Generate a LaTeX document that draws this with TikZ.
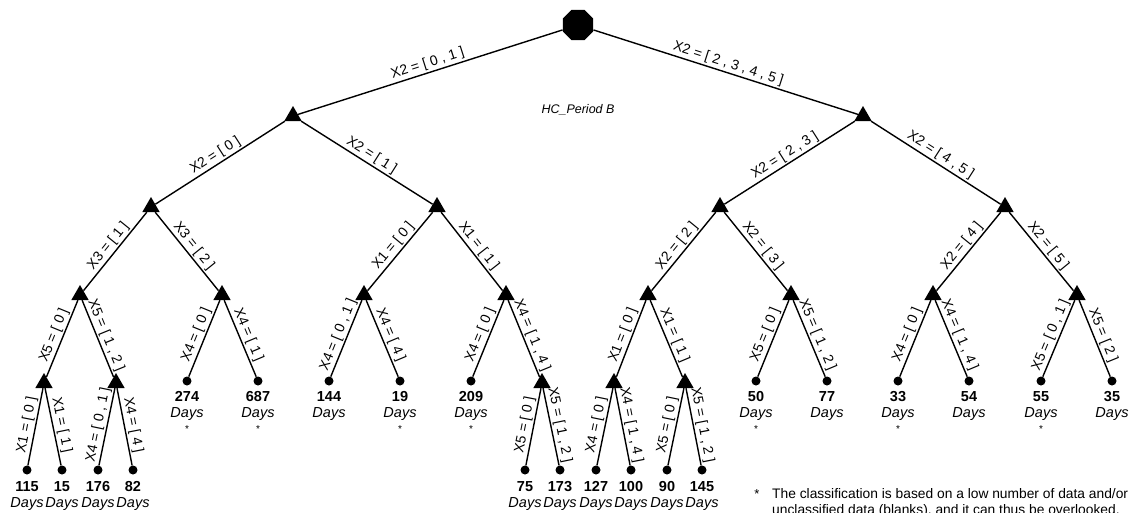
\documentclass[tikz,border=0pt]{standalone}
\usepackage{fontspec}
\setmainfont{Liberation Sans}
\usetikzlibrary{shapes.geometric}
\begin{document}
\begin{tikzpicture}[x=1pt,y=-1pt,
  edge/.style={line width=1.4pt},
  tri/.style={regular polygon, regular polygon sides=3, fill=black, inner sep=0pt, minimum size=20pt},
  oct/.style={regular polygon, regular polygon sides=8, fill=black, inner sep=0pt, minimum size=33pt},
  leaf/.style={circle, fill=black, inner sep=0pt, minimum size=9pt},
  lab/.style={midway, sloped, above, inner sep=1.5pt, font=\fontsize{14}{15}\selectfont},
  lt/.style={align=center, inner sep=0pt, anchor=north, font=\fontsize{14.5}{16.5}\selectfont},
  ast/.style={inner sep=0pt, font=\fontsize{10}{10}\selectfont},
  note/.style={align=left, inner sep=0pt, anchor=north west, font=\fontsize{13.8}{16.5}\selectfont},
  ttl/.style={inner sep=0pt, font=\fontsize{12.5}{13}\selectfont\itshape}]
\useasboundingbox (0,0) rectangle (1133,512);
% decision nodes
\node[oct] (root) at (578,25) {};
\node[tri] (L) at (293,116) {};
\node[tri] (R) at (863,116) {};
\node[tri] (LL) at (151,207) {};
\node[tri] (LR) at (437,207) {};
\node[tri] (RL) at (720,207) {};
\node[tri] (RR) at (1005,207) {};
\node[tri] (a) at (80,295) {};
\node[tri] (b) at (222,295) {};
\node[tri] (c) at (364,295) {};
\node[tri] (d) at (506,295) {};
\node[tri] (e) at (648,295) {};
\node[tri] (f) at (791,295) {};
\node[tri] (g) at (933,295) {};
\node[tri] (h) at (1077,295) {};
\node[tri] (a1) at (44,383) {};
\node[tri] (a2) at (116,383) {};
\node[tri] (d2) at (542,383) {};
\node[tri] (e1) at (614,383) {};
\node[tri] (e2) at (685,383) {};
% leaves, upper row
\node[leaf] (l274) at (187,381) {};
\node[leaf] (l687) at (258,381) {};
\node[leaf] (l144) at (329,381) {};
\node[leaf] (l19) at (400,381) {};
\node[leaf] (l209) at (471,381) {};
\node[leaf] (l50) at (756,381) {};
\node[leaf] (l77) at (827,381) {};
\node[leaf] (l33) at (898,381) {};
\node[leaf] (l54) at (969,381) {};
\node[leaf] (l55) at (1041,381) {};
\node[leaf] (l35) at (1112,381) {};
% leaves, lower row
\node[leaf] (l115) at (27,470) {};
\node[leaf] (l15) at (62,470) {};
\node[leaf] (l176) at (98,470) {};
\node[leaf] (l82) at (133,470) {};
\node[leaf] (l75) at (525,470) {};
\node[leaf] (l173) at (560,470) {};
\node[leaf] (l127) at (596,470) {};
\node[leaf] (l100) at (631,470) {};
\node[leaf] (l90) at (667,470) {};
\node[leaf] (l145) at (702,470) {};
% edges
\draw[edge] (root) -- node[lab]{X2 = [ 0 , 1 ]} (L);
\draw[edge] (root) -- node[lab]{X2 = [ 2 , 3 , 4 , 5 ]} (R);
\draw[edge] (L) -- node[lab]{X2 = [ 0 ]} (LL);
\draw[edge] (L) -- node[lab]{X2 = [ 1 ]} (LR);
\draw[edge] (R) -- node[lab]{X2 = [ 2 , 3 ]} (RL);
\draw[edge] (R) -- node[lab]{X2 = [ 4 , 5 ]} (RR);
\draw[edge] (LL) -- node[lab]{X3 = [ 1 ]} (a);
\draw[edge] (LL) -- node[lab]{X3 = [ 2 ]} (b);
\draw[edge] (LR) -- node[lab]{X1 = [ 0 ]} (c);
\draw[edge] (LR) -- node[lab]{X1 = [ 1 ]} (d);
\draw[edge] (RL) -- node[lab]{X2 = [ 2 ]} (e);
\draw[edge] (RL) -- node[lab]{X2 = [ 3 ]} (f);
\draw[edge] (RR) -- node[lab]{X2 = [ 4 ]} (g);
\draw[edge] (RR) -- node[lab]{X2 = [ 5 ]} (h);
\draw[edge] (a) -- node[lab]{X5 = [ 0 ]} (a1);
\draw[edge] (a) -- node[lab]{X5 = [ 1 , 2 ]} (a2);
\draw[edge] (a1) -- node[lab]{X1 = [ 0 ]} (l115);
\draw[edge] (a1) -- node[lab]{X1 = [ 1 ]} (l15);
\draw[edge] (a2) -- node[lab]{X4 = [ 0 , 1 ]} (l176);
\draw[edge] (a2) -- node[lab]{X4 = [ 4 ]} (l82);
\draw[edge] (b) -- node[lab]{X4 = [ 0 ]} (l274);
\draw[edge] (b) -- node[lab]{X4 = [ 1 ]} (l687);
\draw[edge] (c) -- node[lab]{X4 = [ 0 , 1 ]} (l144);
\draw[edge] (c) -- node[lab]{X4 = [ 4 ]} (l19);
\draw[edge] (d) -- node[lab]{X4 = [ 0 ]} (l209);
\draw[edge] (d) -- node[lab]{X4 = [ 1 , 4 ]} (d2);
\draw[edge] (d2) -- node[lab]{X5 = [ 0 ]} (l75);
\draw[edge] (d2) -- node[lab]{X5 = [ 1 , 2 ]} (l173);
\draw[edge] (e) -- node[lab]{X1 = [ 0 ]} (e1);
\draw[edge] (e) -- node[lab]{X1 = [ 1 ]} (e2);
\draw[edge] (e1) -- node[lab]{X4 = [ 0 ]} (l127);
\draw[edge] (e1) -- node[lab]{X4 = [ 1 , 4 ]} (l100);
\draw[edge] (e2) -- node[lab]{X5 = [ 0 ]} (l90);
\draw[edge] (e2) -- node[lab]{X5 = [ 1 , 2 ]} (l145);
\draw[edge] (f) -- node[lab]{X5 = [ 0 ]} (l50);
\draw[edge] (f) -- node[lab]{X5 = [ 1 , 2 ]} (l77);
\draw[edge] (g) -- node[lab]{X4 = [ 0 ]} (l33);
\draw[edge] (g) -- node[lab]{X4 = [ 1 , 4 ]} (l54);
\draw[edge] (h) -- node[lab]{X5 = [ 0 , 1 ]} (l55);
\draw[edge] (h) -- node[lab]{X5 = [ 2 ]} (l35);
% leaf texts, upper row
\node[lt] (t274) at (187,391) {\textbf{274}\\\textit{Days}};
\node[lt] (t687) at (258,391) {\textbf{687}\\\textit{Days}};
\node[lt] (t144) at (329,391) {\textbf{144}\\\textit{Days}};
\node[lt] (t19) at (400,391) {\textbf{19}\\\textit{Days}};
\node[lt] (t209) at (471,391) {\textbf{209}\\\textit{Days}};
\node[lt] (t50) at (756,391) {\textbf{50}\\\textit{Days}};
\node[lt] (t77) at (827,391) {\textbf{77}\\\textit{Days}};
\node[lt] (t33) at (898,391) {\textbf{33}\\\textit{Days}};
\node[lt] (t54) at (969,391) {\textbf{54}\\\textit{Days}};
\node[lt] (t55) at (1041,391) {\textbf{55}\\\textit{Days}};
\node[lt] (t35) at (1112,391) {\textbf{35}\\\textit{Days}};
\node[ast] (s274) at (187,429) {*};
\node[ast] (s687) at (258,429) {*};
\node[ast] (s19) at (400,429) {*};
\node[ast] (s209) at (471,429) {*};
\node[ast] (s50) at (756,429) {*};
\node[ast] (s33) at (898,429) {*};
\node[ast] (s55) at (1041,429) {*};
% leaf texts, lower row
\node[lt] (t115) at (27,481) {\textbf{115}\\\textit{Days}};
\node[lt] (t15) at (62,481) {\textbf{15}\\\textit{Days}};
\node[lt] (t176) at (98,481) {\textbf{176}\\\textit{Days}};
\node[lt] (t82) at (133,481) {\textbf{82}\\\textit{Days}};
\node[lt] (t75) at (525,481) {\textbf{75}\\\textit{Days}};
\node[lt] (t173) at (560,481) {\textbf{173}\\\textit{Days}};
\node[lt] (t127) at (596,481) {\textbf{127}\\\textit{Days}};
\node[lt] (t100) at (631,481) {\textbf{100}\\\textit{Days}};
\node[lt] (t90) at (667,481) {\textbf{90}\\\textit{Days}};
\node[lt] (t145) at (702,481) {\textbf{145}\\\textit{Days}};
% title and footnote
\node[ttl] (title) at (578,110) {HC\_Period B};
\node[ast, font=\fontsize{13}{13}\selectfont] (nstar) at (757,494) {*};
\node[note] (note) at (772,488) {The classification is based on a low number of data and/or\\unclassified data (blanks), and it can thus be overlooked.};
\end{tikzpicture}
\end{document}
